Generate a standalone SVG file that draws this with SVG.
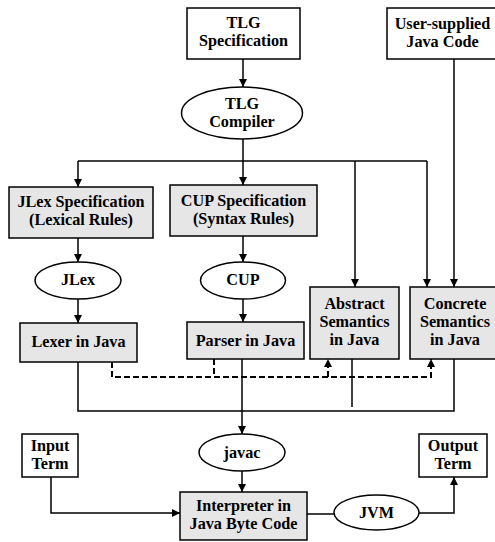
<svg xmlns="http://www.w3.org/2000/svg" width="495" height="542" viewBox="0 0 495 542">
<style>
.box{fill:#ffffff;stroke:#000;stroke-width:1.5}
.gbox{fill:#e6e6e6;stroke:#000;stroke-width:1.5}
.ell{fill:#ffffff;stroke:#000;stroke-width:1.5}
.t{font-family:"Liberation Serif","Times New Roman",serif;font-weight:bold;font-size:16.2px;text-anchor:middle;fill:#000}
.c{fill:none;stroke:#000;stroke-width:1.5}
.d{fill:none;stroke:#000;stroke-width:2;stroke-dasharray:6 3}
</style>
<defs>
<marker id="ah" viewBox="0 0 10 10" refX="10" refY="5" markerWidth="9" markerHeight="8" markerUnits="userSpaceOnUse" orient="auto">
<path d="M0,0 L10,5 L0,10 z" fill="#000"/>
</marker>
</defs>
<rect width="495" height="542" fill="#fff"/>
<g id="connectors">
<path class="c" d="M243,59 V87" marker-end="url(#ah)"/>
<path class="c" d="M243,139 V185" marker-end="url(#ah)"/>
<path class="c" d="M78,161 H427"/>
<path class="c" d="M78,161 V187" marker-end="url(#ah)"/>
<path class="c" d="M355,161 V287" marker-end="url(#ah)"/>
<path class="c" d="M427,161 V287" marker-end="url(#ah)"/>
<path class="c" d="M454,59 V287" marker-end="url(#ah)"/>
<path class="c" d="M78,238 V262" marker-end="url(#ah)"/>
<path class="c" d="M78,299 V323" marker-end="url(#ah)"/>
<path class="c" d="M243,236 V262" marker-end="url(#ah)"/>
<path class="c" d="M243,299 V322" marker-end="url(#ah)"/>
<path class="c" d="M78,362 V411 H454 V359"/>
<path class="c" d="M242,359 V434" marker-end="url(#ah)"/>
<path class="c" d="M352,359 V407"/>
<path class="d" d="M112,362 V377 H431 V359" marker-end="url(#ah)"/>
<path class="d" d="M214,359 V377"/>
<path class="d" d="M328,377 V359" marker-end="url(#ah)"/>
<path class="c" d="M242,471 V492" marker-end="url(#ah)"/>
<path class="c" d="M51,477 V513 H180" marker-end="url(#ah)"/>
<path class="c" d="M307,514 H334"/>
<path class="c" d="M419,513 H454 V477" marker-end="url(#ah)"/>
</g>
<g id="tlg-spec">
<rect class="box" x="187" y="8" width="113" height="51"/>
<text class="t" x="243.5" y="28">TLG</text>
<text class="t" x="243.5" y="46">Specification</text>
</g>
<g id="user-code">
<rect class="box" x="387" y="8" width="112" height="51"/>
<text class="t" x="442.5" y="29">User-supplied</text>
<text class="t" x="442.5" y="47">Java Code</text>
</g>
<g id="tlg-compiler">
<ellipse class="ell" cx="242" cy="113" rx="60.5" ry="26"/>
<text class="t" x="242" y="109">TLG</text>
<text class="t" x="242" y="127">Compiler</text>
</g>
<g id="jlex-spec">
<rect class="gbox" x="9" y="187" width="144" height="51"/>
<text class="t" x="81" y="207">JLex Specification</text>
<text class="t" x="81" y="225">(Lexical Rules)</text>
</g>
<g id="cup-spec">
<rect class="gbox" x="170" y="185" width="147" height="51"/>
<text class="t" x="243.5" y="206">CUP Specification</text>
<text class="t" x="243.5" y="224">(Syntax Rules)</text>
</g>
<g id="jlex">
<ellipse class="ell" cx="78" cy="280.5" rx="43" ry="18.5"/>
<text class="t" x="78" y="285">JLex</text>
</g>
<g id="cup">
<ellipse class="ell" cx="243" cy="280.5" rx="42.5" ry="18.5"/>
<text class="t" x="243" y="285">CUP</text>
</g>
<g id="lexer">
<rect class="gbox" x="20" y="323" width="117" height="39"/>
<text class="t" x="78.5" y="347">Lexer in Java</text>
</g>
<g id="parser">
<rect class="gbox" x="187" y="322" width="117" height="37"/>
<text class="t" x="245.5" y="346">Parser in Java</text>
</g>
<g id="abstract-sem">
<rect class="gbox" x="310" y="287" width="89" height="72"/>
<text class="t" x="354.5" y="309">Abstract</text>
<text class="t" x="354.5" y="327">Semantics</text>
<text class="t" x="354.5" y="345">in Java</text>
</g>
<g id="concrete-sem">
<rect class="gbox" x="410" y="287" width="90" height="72"/>
<text class="t" x="455" y="309">Concrete</text>
<text class="t" x="455" y="327">Semantics</text>
<text class="t" x="455" y="345">in Java</text>
</g>
<g id="javac">
<ellipse class="ell" cx="242" cy="452.5" rx="43" ry="18.5"/>
<text class="t" x="242" y="458">javac</text>
</g>
<g id="input-term">
<rect class="box" x="22" y="434" width="56" height="43"/>
<text class="t" x="50" y="451">Input</text>
<text class="t" x="50" y="469">Term</text>
</g>
<g id="interpreter">
<rect class="gbox" x="180" y="492" width="127" height="48"/>
<text class="t" x="243.5" y="511">Interpreter in</text>
<text class="t" x="243.5" y="529">Java Byte Code</text>
</g>
<g id="jvm">
<ellipse class="ell" cx="376.5" cy="512.5" rx="42.5" ry="17.5"/>
<text class="t" x="376.5" y="518">JVM</text>
</g>
<g id="output-term">
<rect class="box" x="419" y="434" width="68" height="43"/>
<text class="t" x="453" y="451">Output</text>
<text class="t" x="453" y="469">Term</text>
</g>
</svg>
